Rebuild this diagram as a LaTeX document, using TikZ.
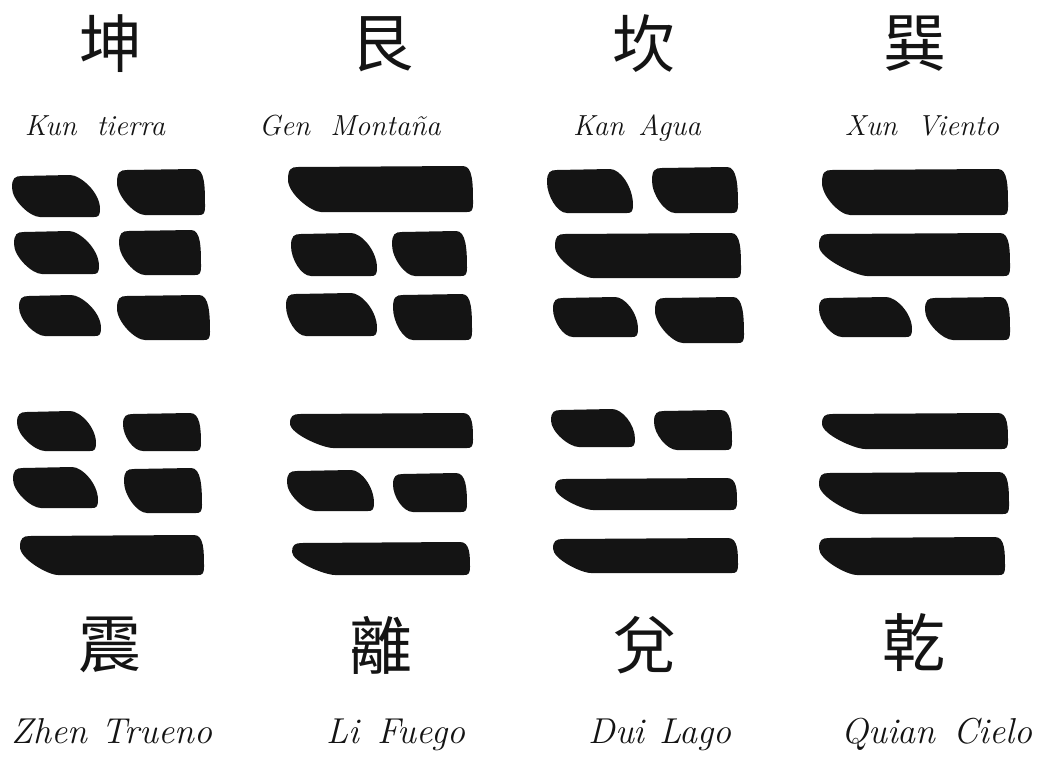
\documentclass[tikz,border=0pt]{standalone}
\usepackage{fontspec}
\newfontfamily\cjk{Noto Sans CJK TC}
\definecolor{ink}{HTML}{141414}
\tikzset{
  hanzi/.style={font=\cjk\fontsize{63}{63}\selectfont, inner sep=0pt, anchor=center, text=ink},
  toplabel/.style={font=\itshape\fontsize{29}{32}\selectfont, inner sep=0pt, anchor=base, text=ink},
  botlabel/.style={font=\itshape\fontsize{36}{38}\selectfont, inner sep=0pt, anchor=base, text=ink}
}
% brush stroke: x1, x2, top, bottom, left slant, right slant (pixel units)
\newcommand\brush[6]{%
  \pgfmathsetmacro\bh{#4-#3}%
  \fill[ink] (#1,{#3+0.3*\bh}) .. controls (#1,{#3+3}) and ({#1+3},{#3+1}) .. ({#1+10},{#3+1})
    -- ({#2-#6-8},#3) .. controls ({#2-#6+2},#3) and (#2,{#3+0.4*\bh}) .. (#2,{#4-8})
    .. controls (#2,{#4-1}) and ({#2-2},#4) .. ({#2-6},#4)
    -- ({#1+#5+8},#4) .. controls ({#1+#5-2},#4) and (#1,{#3+0.6*\bh}) .. (#1,{#3+0.3*\bh}) -- cycle;}
\begin{document}
\begin{tikzpicture}[x=1pt,y=-1pt]
\useasboundingbox[fill=white] (0,0) rectangle (1042,771);
% characters
\node[hanzi] (kunz) at (111,44) {坤};
\node[hanzi] (genz) at (382,44) {艮};
\node[hanzi] (kanz) at (644,44) {坎};
\node[hanzi] (xunz) at (915,44) {巽};
\node[hanzi] (zhenz) at (110,645) {震};
\node[hanzi] (liz) at (381,645) {離};
\node[hanzi] (duiz) at (645,645) {兌};
\node[hanzi] (qianz) at (914,643) {乾};
% labels
\node[toplabel] (kunl) at (95,135) {Kun\hspace{0.7em}tierra};
\node[toplabel] (genl) at (350,135) {Gen\hspace{0.7em}Montaña};
\node[toplabel] (kanl) at (637,135) {Kan\hspace{0.5em}Agua};
\node[toplabel] (xunl) at (922,135) {Xun\hspace{0.7em}Viento};
\node[botlabel] (zhenl) at (112,743) {Zhen\hspace{0.4em}Trueno};
\node[botlabel] (lil) at (396,743) {Li\hspace{0.5em}Fuego};
\node[botlabel] (duil) at (660,743) {Dui\hspace{0.4em}Lago};
\node[botlabel] (qianl) at (937,743) {Quian\hspace{0.5em}Cielo};
% Kun
\brush{12}{100}{175}{217}{20}{22}
\brush{117}{205}{169}{215}{20}{2}
\brush{14}{99}{231}{274}{20}{22}
\brush{119}{201}{230}{275}{18}{2}
\brush{19}{101}{295}{336}{18}{22}
\brush{117}{210}{295}{340}{20}{3}
% Gen
\brush{288}{473}{166}{212}{25}{2}
\brush{291}{377}{233}{276}{12}{18}
\brush{392}{467}{231}{276}{15}{3}
\brush{286}{377}{293}{336}{12}{18}
\brush{393}{472}{294}{340}{12}{2}
% Kan
\brush{547}{633}{169}{213}{12}{15}
\brush{652}{738}{167}{213}{15}{3}
\brush{555}{741}{233}{278}{30}{2}
\brush{553}{638}{297}{337}{12}{15}
\brush{655}{744}{297}{343}{20}{3}
% Xun
\brush{822}{1008}{169}{215}{20}{2}
\brush{819}{1010}{233}{276}{40}{2}
\brush{819}{912}{297}{337}{15}{18}
\brush{925}{1010}{297}{340}{20}{2}
% Zhen
\brush{17}{96}{411}{451}{20}{18}
\brush{123}{201}{413}{451}{12}{3}
\brush{13}{98}{467}{508}{20}{18}
\brush{124}{202}{468}{513}{15}{3}
\brush{20}{204}{535}{575}{30}{2}
% Li
\brush{290}{473}{413}{448}{35}{2}
\brush{287}{374}{470}{511}{20}{15}
\brush{393}{467}{473}{512}{12}{3}
\brush{292}{470}{542}{575}{35}{2}
% Dui
\brush{551}{635}{409}{447}{20}{15}
\brush{654}{732}{410}{450}{15}{3}
\brush{555}{737}{478}{510}{30}{2}
\brush{553}{738}{538}{573}{30}{2}
% Qian
\brush{822}{1008}{413}{449}{35}{2}
\brush{819}{1009}{472}{514}{35}{2}
\brush{819}{1005}{537}{575}{30}{2}
\end{tikzpicture}
\end{document}
